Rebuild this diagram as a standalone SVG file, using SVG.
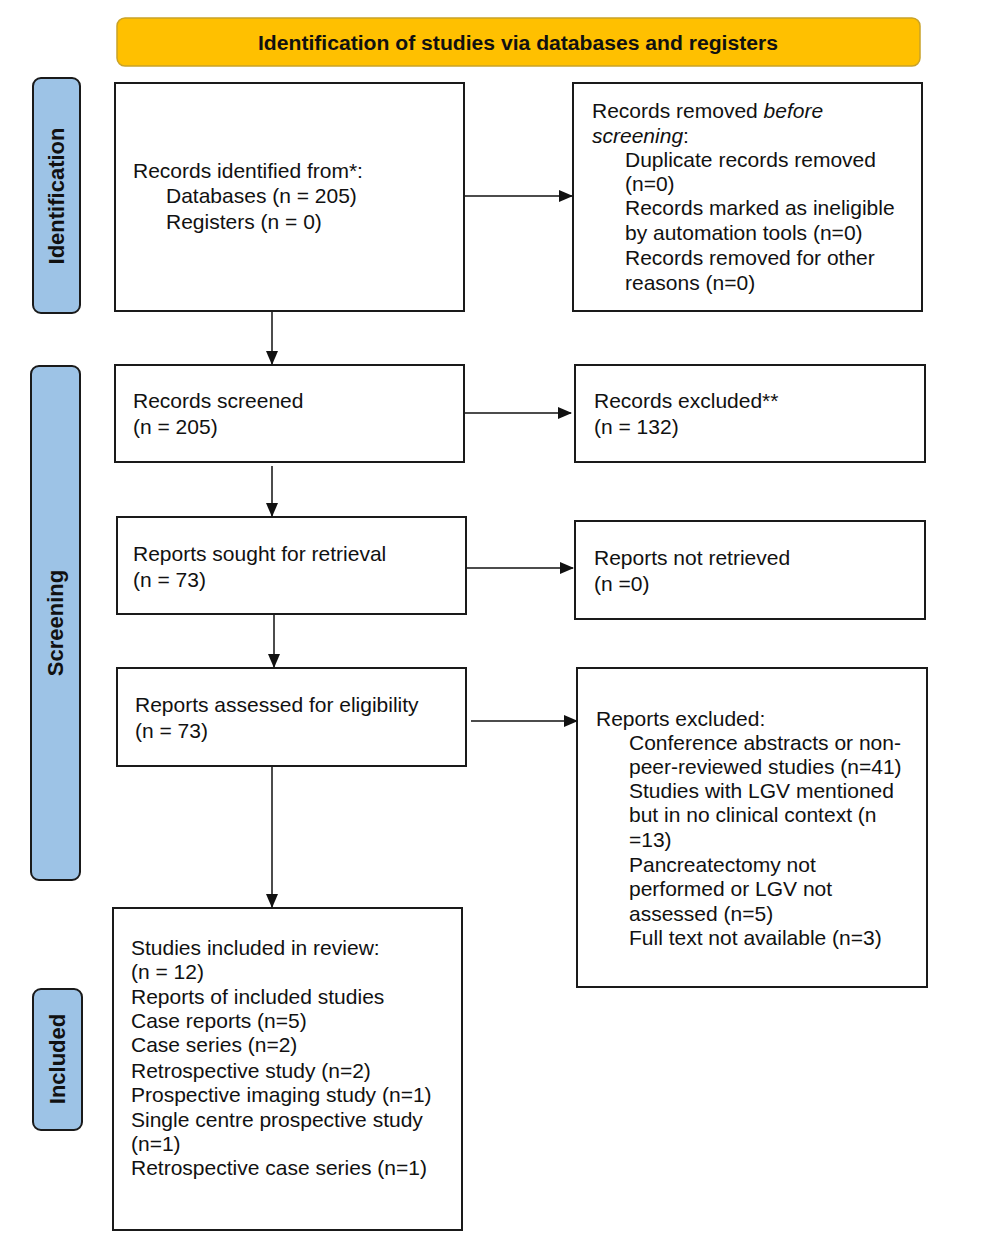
<svg xmlns="http://www.w3.org/2000/svg" width="986" height="1256" viewBox="0 0 986 1256">
<style>
.box{fill:#fff;stroke:#1a1a1a;stroke-width:2}
.side{fill:#9dc3e6;stroke:#1a1a1a;stroke-width:2}
.t{font-family:"Liberation Sans",Arial,sans-serif;font-size:21px;fill:#111}
.st{font-family:"Liberation Sans",Arial,sans-serif;font-size:22px;font-weight:bold;fill:#111;text-anchor:middle}
.conn{stroke:#111;stroke-width:1.5;fill:none;marker-end:url(#ah)}
</style>
<defs>
<marker id="ah" markerWidth="14" markerHeight="12" refX="13" refY="6" orient="auto" markerUnits="userSpaceOnUse" viewBox="0 0 14 12">
<path d="M0,0 L14,6 L0,12 z" fill="#111"/>
</marker>
</defs>
<rect width="986" height="1256" fill="#fff"/>

<g id="header">
<rect x="117" y="18" width="803" height="48" rx="8" fill="#ffc000" stroke="#c9a227" stroke-width="1.5"/>
<text x="518" y="50" font-family="'Liberation Sans',Arial,sans-serif" font-size="20" font-weight="bold" fill="#111" text-anchor="middle" textLength="520" lengthAdjust="spacingAndGlyphs">Identification of studies via databases and registers</text>
</g>

<g id="side-identification">
<rect class="side" x="33" y="78" width="47" height="235" rx="8"/>
<text class="st" transform="translate(64,196) rotate(-90)">Identification</text>
</g>
<g id="side-screening">
<rect class="side" x="31" y="366" width="49" height="514" rx="8"/>
<text class="st" transform="translate(63,623) rotate(-90)">Screening</text>
</g>
<g id="side-included">
<rect class="side" x="33" y="989" width="49" height="141" rx="8"/>
<text class="st" transform="translate(65,1059) rotate(-90)">Included</text>
</g>

<g id="records-identified">
<rect class="box" x="115" y="83" width="349" height="228"/>
<text class="t" x="133" y="178">Records identified from*:</text>
<text class="t" x="166" y="203">Databases (n = 205)</text>
<text class="t" x="166" y="229">Registers (n = 0)</text>
</g>

<g id="records-removed">
<rect class="box" x="573" y="83" width="349" height="228"/>
<text class="t" x="592" y="118">Records removed <tspan font-style="italic">before</tspan></text>
<text class="t" x="592" y="143"><tspan font-style="italic">screening</tspan>:</text>
<text class="t" x="625" y="167">Duplicate records removed</text>
<text class="t" x="625" y="191">(n=0)</text>
<text class="t" x="625" y="215">Records marked as ineligible</text>
<text class="t" x="625" y="240">by automation tools (n=0)</text>
<text class="t" x="625" y="265">Records removed for other</text>
<text class="t" x="625" y="290">reasons (n=0)</text>
</g>

<g id="records-screened">
<rect class="box" x="115" y="365" width="349" height="97"/>
<text class="t" x="133" y="408">Records screened</text>
<text class="t" x="133" y="434">(n = 205)</text>
</g>

<g id="records-excluded">
<rect class="box" x="575" y="365" width="350" height="97"/>
<text class="t" x="594" y="408">Records excluded**</text>
<text class="t" x="594" y="434">(n = 132)</text>
</g>

<g id="reports-sought">
<rect class="box" x="117" y="517" width="349" height="97"/>
<text class="t" x="133" y="561">Reports sought for retrieval</text>
<text class="t" x="133" y="587">(n = 73)</text>
</g>

<g id="reports-not-retrieved">
<rect class="box" x="575" y="521" width="350" height="98"/>
<text class="t" x="594" y="565">Reports not retrieved</text>
<text class="t" x="594" y="591">(n =0)</text>
</g>

<g id="reports-assessed">
<rect class="box" x="117" y="668" width="349" height="98"/>
<text class="t" x="135" y="712">Reports assessed for eligibility</text>
<text class="t" x="135" y="738">(n = 73)</text>
</g>

<g id="reports-excluded">
<rect class="box" x="577" y="668" width="350" height="319"/>
<text class="t" x="596" y="726">Reports excluded:</text>
<text class="t" x="629" y="750">Conference abstracts or non-</text>
<text class="t" x="629" y="774">peer-reviewed studies (n=41)</text>
<text class="t" x="629" y="798">Studies with LGV mentioned</text>
<text class="t" x="629" y="822">but in no clinical context (n</text>
<text class="t" x="629" y="847">=13)</text>
<text class="t" x="629" y="872">Pancreatectomy not</text>
<text class="t" x="629" y="896">performed or LGV not</text>
<text class="t" x="629" y="921">assessed (n=5)</text>
<text class="t" x="629" y="945">Full text not available (n=3)</text>
</g>

<g id="studies-included">
<rect class="box" x="113" y="908" width="349" height="322"/>
<text class="t" x="131" y="955">Studies included in review:</text>
<text class="t" x="131" y="979">(n = 12)</text>
<text class="t" x="131" y="1004">Reports of included studies</text>
<text class="t" x="131" y="1028">Case reports (n=5)</text>
<text class="t" x="131" y="1052">Case series (n=2)</text>
<text class="t" x="131" y="1078">Retrospective study (n=2)</text>
<text class="t" x="131" y="1102">Prospective imaging study (n=1)</text>
<text class="t" x="131" y="1127">Single centre prospective study</text>
<text class="t" x="131" y="1151">(n=1)</text>
<text class="t" x="131" y="1175">Retrospective case series (n=1)</text>
</g>

<g id="connectors">
<line class="conn" x1="272" y1="312" x2="272" y2="364"/>
<line class="conn" x1="272" y1="466" x2="272" y2="516"/>
<line class="conn" x1="274" y1="615" x2="274" y2="667"/>
<line class="conn" x1="272" y1="767" x2="272" y2="907"/>
<line class="conn" x1="465" y1="196" x2="572" y2="196"/>
<line class="conn" x1="465" y1="413" x2="571" y2="413"/>
<line class="conn" x1="467" y1="568" x2="573" y2="568"/>
<line class="conn" x1="471" y1="721" x2="577" y2="721"/>
</g>
</svg>
